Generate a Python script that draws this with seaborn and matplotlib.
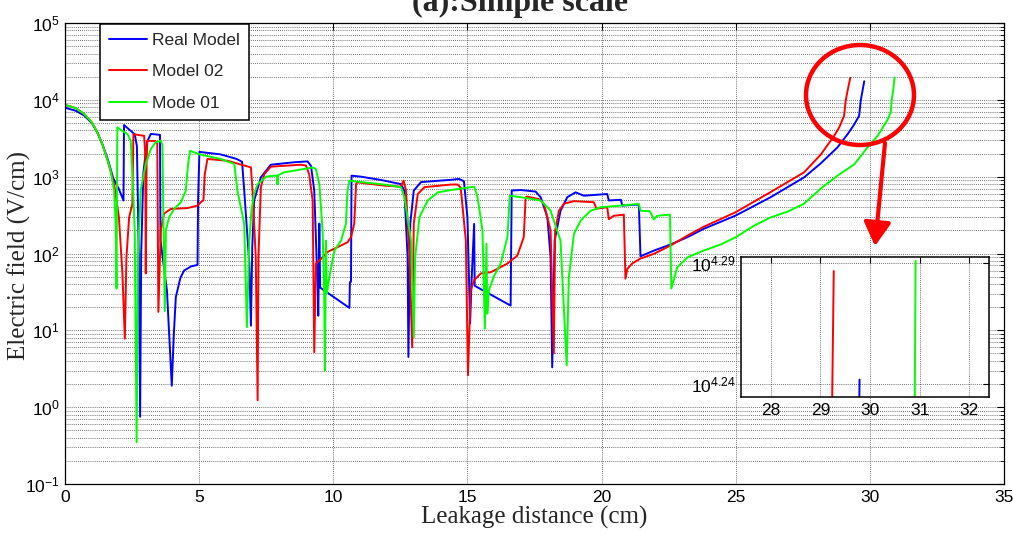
import numpy as np
import pandas as pd
import matplotlib
matplotlib.use("Agg")
import matplotlib.pyplot as plt
import seaborn as sns
from matplotlib.patches import Ellipse, FancyArrowPatch, ArrowStyle
from matplotlib.ticker import FixedLocator, FuncFormatter, LogLocator, NullLocator, NullFormatter

# ---- data: electric field along the leakage path -------------------------
real_x = [0, 0.4, 0.7, 1.0, 1.2, 1.4, 1.6, 1.8, 2.0, 2.18, 2.2, 2.6, 2.68, 2.75, 2.8,
          2.84, 2.92, 3.05, 3.2, 3.54, 3.56, 3.8, 3.98, 4.05, 4.13, 4.3, 4.44, 4.7,
          4.94, 4.96, 5.01, 5.8, 6.4, 6.6, 6.68, 6.87, 6.93, 6.98, 7.05, 7.3, 7.67,
          8.54, 9.04, 9.17, 9.29, 9.42, 9.44, 9.48, 9.51, 10.6, 10.62, 10.66, 10.68,
          11.03, 11.78, 12.52, 12.65, 12.77, 12.8, 12.87, 13.0, 13.27, 14.39, 14.69,
          14.87, 15.0, 15.1, 15.15, 15.25, 15.27, 16.61, 16.65, 16.99, 17.54, 17.73,
          17.98, 18.1, 18.16, 18.25, 18.47, 18.72, 19.03, 19.34, 20.21, 20.27, 20.72,
          20.77, 21.39, 21.45, 21.95, 22.57, 23.2, 23.8, 25.0, 26.3, 27.55, 28.17,
          28.79, 29.17, 29.42, 29.6, 29.66, 29.79]
real_e = [7900, 7200, 6300, 5000, 3800, 2600, 1660, 950, 700, 490, 4700, 3550, 2500, 100, 0.75,
          100, 1100, 2800, 3600, 3500, 147, 33, 1.9, 8, 27, 48, 60, 68,
          71, 490, 2100, 1950, 1700, 1560, 660, 74, 11.5, 120, 490, 980, 1430,
          1540, 1580, 1380, 660, 33, 15.5, 245, 36, 19.6, 42.5, 43, 1030,
          1000, 905, 800, 660, 89, 4.5, 245, 660, 850, 910, 935,
          870, 295, 12.3, 41, 243, 38, 21, 660, 670, 640, 540,
          295, 89, 3.3, 147, 360, 540, 625, 565, 595, 490, 500,
          420, 434, 92, 109, 131, 163, 209, 312, 540, 980, 1490,
          2400, 3570, 4800, 6200, 9750, 17450]

m02_x = [0, 0.4, 0.7, 1.0, 1.2, 1.4, 1.6, 1.83, 2.01, 2.14, 2.23, 2.29, 2.39, 2.51, 2.55,
         2.95, 2.99, 3.01, 3.04, 3.07, 3.38, 3.44, 3.48, 3.57, 3.69, 3.94, 4.56, 4.94,
         5.06, 5.16, 5.21, 5.31, 6.06, 6.93, 6.99, 7.11, 7.18, 7.21, 7.3, 7.43, 7.67,
         8.79, 8.98, 9.1, 9.23, 9.29, 9.35, 9.48, 9.79, 10.16, 10.53, 10.66, 10.78,
         10.85, 10.88, 11.9, 12.52, 12.62, 12.71, 12.84, 12.94, 13.0, 13.15, 13.4,
         14.39, 14.63, 14.75, 14.94, 15.02, 15.12, 15.25, 15.5, 15.87, 16.49, 16.86,
         17.1, 17.17, 17.23, 17.67, 17.85, 18.1, 18.22, 18.27, 18.41, 18.6, 18.97,
         19.71, 19.81, 20.21, 20.27, 20.46, 20.83, 20.89, 20.96, 21.14, 21.45, 21.95,
         22.57, 23.2, 23.82, 25.0, 26.3, 27.55, 28.17, 28.67, 28.86, 29.04, 29.1,
         29.17, 29.27]
m02_e = [8600, 7800, 6600, 5100, 3800, 2600, 1580, 800, 296, 55, 7.8, 89, 296, 440, 3570,
         3400, 2000, 55, 1500, 2940, 2900, 2700, 17.4, 200, 330, 380, 390, 420,
         465, 490, 1080, 1700, 1610, 1320, 650, 89, 1.23, 89, 730, 1080, 1350,
         1430, 1400, 1080, 490, 5.2, 74, 81, 105, 121, 140, 163, 243,
         800, 845, 765, 740, 890, 660, 89, 6.0, 245, 595, 730,
         790, 790, 720, 148, 2.6, 33, 45, 55, 57, 74, 94,
         163, 540, 550, 510, 445, 200, 5.0, 200, 360, 445, 480,
         465, 383, 400, 280, 310, 320, 47, 63, 74, 86, 99,
         127, 171, 224, 345, 630, 1140, 1940, 3400, 4400, 6200, 9800,
         13200, 19350]

m01_x = [0, 0.4, 0.7, 1.0, 1.2, 1.4, 1.6, 1.7, 1.83, 1.89, 1.92, 1.95, 2.33, 2.45, 2.51,
         2.6, 2.67, 2.72, 2.82, 3.01, 3.2, 3.38, 3.57, 3.63, 3.67, 3.72, 3.76, 3.88,
         4.07, 4.32, 4.5, 4.59, 4.66, 5.06, 5.81, 6.31, 6.43, 6.68, 6.78, 6.87, 6.95,
         7.05, 7.18, 7.5, 7.8, 7.9, 7.92, 7.95, 8.17, 8.92, 9.23, 9.35, 9.48, 9.6,
         9.66, 9.69, 9.73, 9.76, 9.85, 10.04, 10.29, 10.47, 10.53, 10.6, 10.78, 11.9,
         12.52, 12.65, 12.9, 13.0, 13.05, 13.21, 13.52, 13.9, 14.39, 15.25, 15.37,
         15.56, 15.65, 15.71, 15.74, 15.8, 15.99, 16.24, 16.49, 16.58, 16.99, 17.73,
         18.1, 18.47, 18.7, 18.78, 18.97, 19.22, 19.59, 19.96, 20.71, 21.39, 21.45,
         21.8, 21.95, 22.07, 22.55, 22.6, 22.82, 23.2, 23.8, 24.44, 25.0, 25.68, 26.3,
         26.93, 27.55, 28.17, 28.79, 29.42, 29.91, 30.29, 30.66, 30.78, 30.81, 30.87,
         30.92]
m01_e = [8600, 7800, 6600, 5100, 3800, 2600, 1580, 1200, 660, 245, 35, 4370, 3570, 2950, 1080,
         200, 0.35, 89, 660, 1460, 2290, 2800, 2940, 2600, 245, 17.8, 200, 296,
         380, 465, 655, 1460, 2170, 1930, 1700, 1460, 650, 243, 11, 147, 360,
         600, 800, 1000, 1030, 1030, 800, 1050, 1140, 1260, 1320, 1260, 800, 200,
         33, 3.0, 147, 30, 49, 109, 147, 243, 660, 890, 870, 790,
         730, 540, 147, 8.1, 89, 296, 490, 625, 670, 740, 560,
         200, 10.5, 134, 16.5, 33, 51, 74, 163, 565, 540, 490,
         360, 147, 3.5, 49, 180, 268, 360, 400, 420, 442, 360,
         355, 277, 310, 320, 35, 66, 89, 109, 131, 163, 230, 295,
         350, 445, 700, 1030, 1450, 2400, 3400, 5500, 6900, 9800, 13200,
         19540]

series_names = ["Real Model", "Model 02", "Mode 01"]
series_colors = ["#0000FF", "#FF0000", "#00FF00"]

x_ticks = [0, 5, 10, 15, 20, 25, 30, 35]
y_decades = [-1, 0, 1, 2, 3, 4, 5]
inset_x_ticks = [28, 29, 30, 31, 32]
inset_y_exps = [4.24, 4.29]

frames = []
for name, xs, es in zip(series_names, [real_x, m02_x, m01_x], [real_e, m02_e, m01_e]):
    frames.append(pd.DataFrame({"distance": xs, "field": es, "model": name}))
df = pd.concat(frames, ignore_index=True)

# ---- styling -------------------------------------------------------------
sns.set_theme(style="white")
plt.rcParams["font.family"] = ["Liberation Sans", "DejaVu Sans"]
plt.rcParams["mathtext.default"] = "regular"
plt.rcParams["axes.unicode_minus"] = False

SERIF = "Liberation Serif"
TICK_FS = 12.5
GRID_KW = dict(color="#444444", linestyle=(0, (1, 1.5)), linewidth=0.6)

fig = plt.figure(figsize=(10.13, 5.33), dpi=100)
ax = fig.add_axes([65 / 1013, 49 / 533, 939 / 1013, 461 / 533])

palette = dict(zip(series_names, series_colors))


def draw_lines(target):
    sns.lineplot(data=df, x="distance", y="field", hue="model", hue_order=series_names,
                 palette=palette, sort=False, estimator=None, linewidth=1.4,
                 legend=False, ax=target)


draw_lines(ax)
ax.set_yscale("log")
ax.set_xlim(0, 35)
ax.set_ylim(10.0 ** y_decades[0], 10.0 ** y_decades[-1])
ax.xaxis.set_major_locator(FixedLocator(x_ticks))
ax.xaxis.set_minor_locator(NullLocator())
ax.yaxis.set_major_locator(FixedLocator([10.0 ** d for d in y_decades]))
ax.yaxis.set_minor_locator(LogLocator(base=10, subs=np.arange(2, 10), numticks=20))
ax.yaxis.set_minor_formatter(NullFormatter())
ax.yaxis.set_major_formatter(FuncFormatter(lambda v, p: r"$10^{%d}$" % round(np.log10(v))))
ax.tick_params(which="both", direction="in", top=True, right=True, colors="black",
               labelsize=TICK_FS, pad=4)
ax.tick_params(which="major", length=5, width=0.8)
ax.tick_params(which="minor", length=3, width=0.6)
ax.grid(True, which="major", axis="both", **GRID_KW)
ax.grid(True, which="minor", axis="y", **GRID_KW)
for s in ax.spines.values():
    s.set_color("black")
    s.set_linewidth(0.9)

ax.set_xlabel("Leakage distance (cm)", fontfamily=SERIF, fontsize=18, labelpad=1)
ax.set_ylabel("")
fig.text(19 / 1013, 1 - 256 / 533, "Electric field (V/cm)", fontfamily=SERIF, fontsize=18,
         rotation=90, ha="center", va="center")
fig.text(520 / 1013, (533 - 11.5) / 533, "(a):Simple scale", fontfamily=SERIF,
         fontweight="bold", fontsize=23, ha="center", va="baseline")

handles = [plt.Line2D([], [], color=c, lw=1.4) for c in series_colors]
leg = ax.legend(handles, series_names, loc="upper left",
                bbox_to_anchor=(100 / 1013, 1 - 24 / 533), bbox_transform=fig.transFigure,
                fontsize=12.5, frameon=True, fancybox=False, framealpha=1,
                edgecolor="black", borderpad=0.5, handlelength=2.2,
                handletextpad=0.3, labelspacing=0.95, borderaxespad=0)
leg.get_frame().set_linewidth(1.1)

# ---- zoomed view of the curve ends --------------------------------------
ins = fig.add_axes([741 / 1013, (533 - 397) / 533, 248 / 1013, 140 / 533])
draw_lines(ins)
ins.set_yscale("log")
ins.set_xlim(27.4, 32.4)
ins.set_ylim(10 ** 4.2346, 10 ** 4.2925)
ins.xaxis.set_major_locator(FixedLocator(inset_x_ticks))
ins.xaxis.set_minor_locator(NullLocator())
ins.yaxis.set_major_locator(FixedLocator([10 ** e for e in inset_y_exps]))
ins.yaxis.set_minor_locator(NullLocator())
ins.yaxis.set_major_formatter(FuncFormatter(lambda v, p: r"$10^{%.2f}$" % np.log10(v)))
ins.set_xlabel("")
ins.set_ylabel("")
ins.tick_params(which="both", direction="in", top=True, right=True, colors="black",
                labelsize=TICK_FS, pad=4, length=4, width=0.8)
ins.grid(True, which="major", axis="both", **GRID_KW)
ins.set_facecolor("white")
for s in ins.spines.values():
    s.set_color("black")
    s.set_linewidth(1.1)

# ---- highlight of the curve ends ----------------------------------------
fig.patches.append(Ellipse((860 / 1013, 1 - 95 / 533), 108 / 1013, 100 / 533,
                           transform=fig.transFigure, fill=False, edgecolor="red",
                           linewidth=3.2, zorder=10))
fig.patches.append(FancyArrowPatch((885 / 1013, 1 - 143 / 533), (875 / 1013, 1 - 246 / 533),
                                   transform=fig.transFigure,
                                   arrowstyle=ArrowStyle("-|>", head_length=1.3, head_width=0.75),
                                   mutation_scale=11, color="red", linewidth=3,
                                   shrinkA=0, shrinkB=0, zorder=10))

fig.savefig("out.png", dpi=100)
